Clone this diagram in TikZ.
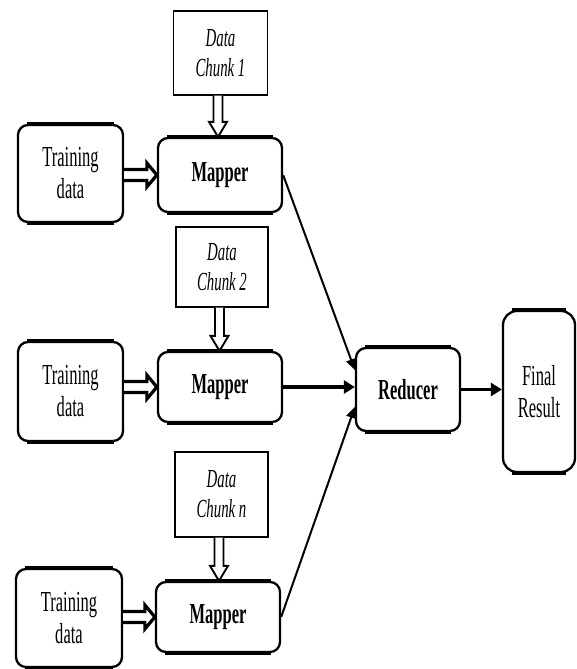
\documentclass[tikz,border=0pt]{standalone}
\usepackage{fontspec}
\usetikzlibrary{arrows.meta,calc}
\newfontfamily\cond[FakeStretch=0.57]{Liberation Serif}
\newcommand\hollowarrow[6]{%
  \coordinate (hA) at (#2);
  \coordinate (hB) at (#3);
  \coordinate (hH) at ($(hB)!#6!(hA)$);
  \draw[#1] ($(hA)!#4!90:(hB)$) -- ($(hH)!#4!90:(hB)$) -- ($(hH)!#5!90:(hB)$)
    -- (hB) -- ($(hH)!#5!-90:(hB)$) -- ($(hH)!#4!-90:(hB)$) -- ($(hA)!#4!-90:(hB)$);
}
\begin{document}
\begin{tikzpicture}[x=1pt,y=-1pt,
  rbox/.style={draw, line width=2.3pt, rounded corners=10pt, inner sep=0pt, align=center,
    font={\cond\fontsize{29}{32}\selectfont}},
  chunk/.style={draw, line width=1.2pt, inner sep=0pt, align=center,
    font={\cond\itshape\fontsize{26}{30}\selectfont}},
  thickedge/.style={line width=4.5pt},
  harrow/.style={line width=3.2pt, line join=miter, fill=white},
  varrow/.style={line width=1.9pt, line join=miter, fill=white},
  flow/.style={line width=3.8pt, -{Triangle[length=11pt,width=13pt]}},
  diag/.style={line width=2pt, -{Triangle[length=11pt,width=10pt]}}
]
\useasboundingbox (0,0) rectangle (576,669);

% data chunks
\node[chunk, minimum width=94pt, minimum height=84pt] (c1) at (220.5,53) {Data\\Chunk 1};
\node[chunk, minimum width=92pt, minimum height=80pt] (c2) at (222,267) {Data\\Chunk 2};
\node[chunk, minimum width=93pt, minimum height=85pt] (c3) at (221.5,494.5) {Data\\Chunk n};

% training data
\node[rbox, minimum width=105pt, minimum height=97pt] (t1) at (70.5,173.5) {Training\\data};
\node[rbox, minimum width=105pt, minimum height=99pt] (t2) at (70.5,391.5) {Training\\data};
\node[rbox, minimum width=106pt, minimum height=98pt] (t3) at (69,618) {Training\\data};

% mappers
\node[rbox, minimum width=124pt, minimum height=74pt] (m1) at (220,175) {\bfseries Mapper};
\node[rbox, minimum width=124pt, minimum height=70pt] (m2) at (220,387) {\bfseries Mapper};
\node[rbox, minimum width=124pt, minimum height=70pt] (m3) at (218,617) {\bfseries Mapper};

% reducer and final
\node[rbox, minimum width=104pt, minimum height=83pt] (r) at (408,389.5) {\bfseries Reducer};
\node[rbox, rounded corners=14pt, minimum width=72pt, minimum height=161pt] (f) at (539,391.5) {Final\\Result};

% thicker top and bottom edges
\foreach \n in {t1,t2,t3,m1,m2,m3,r,f} {
  \draw[thickedge] ([xshift=10pt]\n.north west) -- ([xshift=-10pt]\n.north east);
  \draw[thickedge] ([xshift=10pt]\n.south west) -- ([xshift=-10pt]\n.south east);
}

% hollow arrows: chunk -> mapper
\hollowarrow{varrow}{[xshift=-2.5pt]c1.south}{[xshift=-2.5pt]c1.south |- m1.north}{4.5pt}{9pt}{15pt}
\hollowarrow{varrow}{[xshift=-2.5pt]c2.south}{[xshift=-2.5pt]c2.south |- m2.north}{4.5pt}{9pt}{15pt}
\hollowarrow{varrow}{[xshift=-2.5pt]c3.south}{[xshift=-2.5pt]c3.south |- m3.north}{4.5pt}{9pt}{15pt}

% hollow arrows: training -> mapper
\hollowarrow{harrow}{t1.east |- m1.west}{m1.west}{5.5pt}{12pt}{10pt}
\hollowarrow{harrow}{t2.east |- m2.west}{m2.west}{5.5pt}{12pt}{10pt}
\hollowarrow{harrow}{t3.east |- m3.west}{m3.west}{5.5pt}{12pt}{10pt}

% mapper -> reducer
\draw[diag] (m1.east) -- ([yshift=19.5pt]r.west);
\draw[flow] (m2.east) -- (m2.east -| r.west);
\draw[diag] (m3.east) -- ([yshift=-17.5pt]r.west);

% reducer -> final
\draw[flow] (r.east) -- (r.east -| f.west);
\end{tikzpicture}
\end{document}
